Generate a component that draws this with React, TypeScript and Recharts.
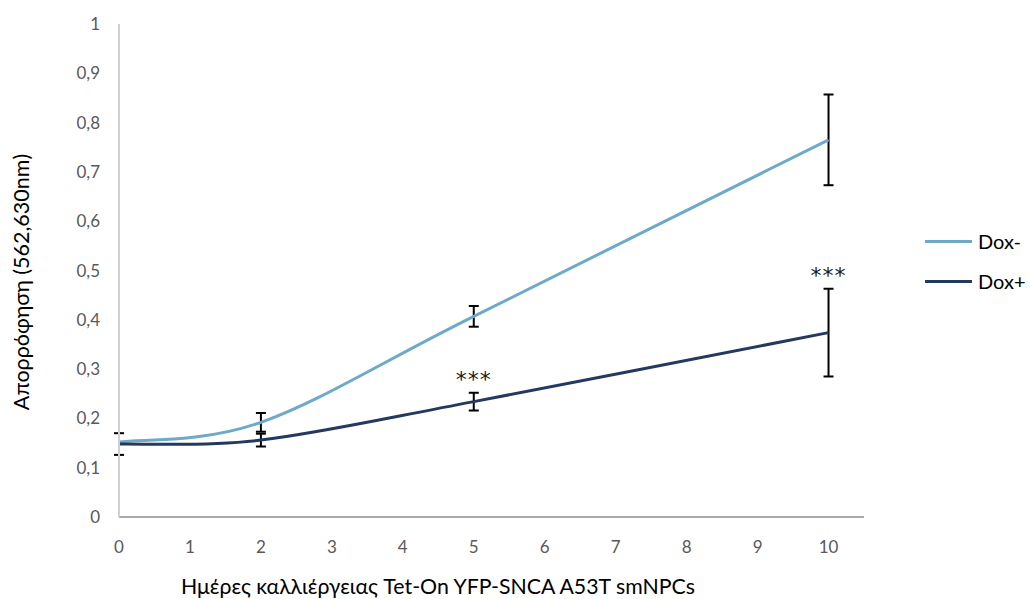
import { LineChart, Line, XAxis, YAxis, ErrorBar, ReferenceDot } from "recharts";

const days = [0, 2, 5, 10];
const doxMinus = [0.152, 0.192, 0.407, 0.765];
const doxMinusErr = [0, 0.019, 0.021, 0.092];
const doxPlus = [0.148, 0.156, 0.234, 0.374];
const doxPlusErr = [0.022, 0.013, 0.018, 0.089];
const sig = ["", "", "***", "***"];

const xTicks = [0, 1, 2, 3, 4, 5, 6, 7, 8, 9, 10];
const yTicks = [0, 0.1, 0.2, 0.3, 0.4, 0.5, 0.6, 0.7, 0.8, 0.9, 1];

const series = [
  { key: "minus", name: "Dox-", color: "#6fa9c8" },
  { key: "plus", name: "Dox+", color: "#23395f" },
];

const rows = days.map((d, i) => ({
  day: d,
  minus: doxMinus[i],
  minusErr: doxMinusErr[i],
  plus: doxPlus[i],
  plusErr: doxPlusErr[i],
}));

const font = "Lato, 'Open Sans', sans-serif";

// smoothing close to Excel's "smoothed line" (catmull-rom style bezier)
const smooth = (ctx: any) => {
  let pts: number[][] = [];
  return {
    areaStart() {},
    areaEnd() {},
    lineStart() { pts = []; },
    point(x: number, y: number) { pts.push([+x, +y]); },
    lineEnd() {
      if (!pts.length) return;
      ctx.moveTo(pts[0][0], pts[0][1]);
      for (let i = 0; i < pts.length - 1; i++) {
        const p0 = pts[Math.max(i - 1, 0)];
        const p1 = pts[i];
        const p2 = pts[i + 1];
        const p3 = pts[Math.min(i + 2, pts.length - 1)];
        ctx.bezierCurveTo(
          p1[0] + (p2[0] - p0[0]) / 6, p1[1] + (p2[1] - p0[1]) / 6,
          p2[0] - (p3[0] - p1[0]) / 6, p2[1] - (p3[1] - p1[1]) / 6,
          p2[0], p2[1],
        );
      }
    },
  };
};

const fmt = (v: number) => String(Math.round(v * 10) / 10).replace(".", ",");

export default function App() {
  return (
    <div style={{ position: "absolute", left: 0, top: 0, width: 1030, height: 599, background: "#fff", fontFamily: font }}>
      <LineChart width={1030} height={599} data={rows} margin={{ top: 24, right: 166, bottom: 0, left: 0 }}>
        <XAxis
          type="number"
          dataKey="day"
          domain={[0, 10.5]}
          ticks={xTicks}
          tickLine={false}
          tickSize={0}
          tickMargin={24}
          height={82}
          stroke="#8c8c8c"
          strokeWidth={1.5}
          tick={{ fill: "#595959", fontSize: 17, fontFamily: font }}
          label={{
            content: () => (
              <text x={438} y={594} textAnchor="middle" fill="#000" fontSize={21.3} fontFamily={font}>
                Ημέρες καλλιέργειας Tet-On YFP-SNCA A53T smNPCs
              </text>
            ),
          }}
        />
        <YAxis
          type="number"
          domain={[0, 1]}
          ticks={yTicks}
          tickFormatter={fmt}
          tickLine={false}
          tickSize={0}
          tickMargin={19}
          width={119}
          stroke="#d0d0d0"
          strokeWidth={2}
          tick={{ fill: "#595959", fontSize: 17, fontFamily: font }}
          label={{
            content: () => (
              <text x={29} y={282} transform="rotate(-90 29 282)" textAnchor="middle" fill="#000" fontSize={21.5} fontFamily={font}>
                Απορρόφηση (562,630nm)
              </text>
            ),
          }}
        />
        {series.map((s) => (
          <Line
            key={s.key}
            type={smooth as any}
            dataKey={s.key}
            stroke={s.color}
            strokeWidth={3}
            dot={false}
            activeDot={false}
            isAnimationActive={false}
          >
            <ErrorBar dataKey={s.key + "Err"} direction="y" width={5} stroke="#000" strokeWidth={2} />
          </Line>
        ))}
        {days.map((d, i) =>
          sig[i] ? (
            <ReferenceDot
              key={"sig" + i}
              x={d}
              y={doxPlus[i] + doxPlusErr[i]}
              r={0}
              fill="none"
              stroke="none"
              label={{ value: sig[i], position: "top", offset: 6, fill: "#1a1a1a", fontSize: 22, fontFamily: "'DejaVu Sans', sans-serif", letterSpacing: 1 }}
            />
          ) : null,
        )}
      </LineChart>
      {series.map((s, i) => (
        <div key={s.key} style={{ position: "absolute", left: 925, top: 229 + i * 40, display: "flex", alignItems: "center" }}>
          <div style={{ width: 47, height: 3, background: s.color, marginRight: 6 }} />
          <span style={{ fontSize: 20, color: "#000", lineHeight: "24px" }}>{s.name}</span>
        </div>
      ))}
    </div>
  );
}
